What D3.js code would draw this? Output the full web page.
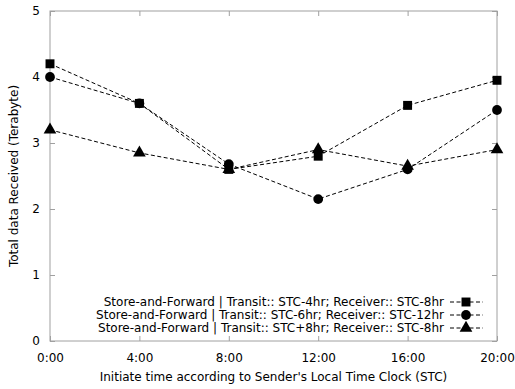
<!DOCTYPE html>
<html lang="en"><head>
<meta charset="utf-8">
<title>Total data received</title>
<script src="https://cdn.jsdelivr.net/npm/d3@7"></script>
<style>
body { margin: 0; background: #fff; }
text { font-family: "DejaVu Sans", sans-serif; fill: #000; }
</style>
</head>
<body>
<script type="text/javascript">

var width = 515;
var height = 389;

// data
var hours = [0, 4, 8, 12, 16, 20];
var tickLabels = ["0:00", "4:00", "8:00", "12:00", "16:00", "20:00"];
var seriesNames = [
    "Store-and-Forward | Transit:: STC-4hr; Receiver:: STC-8hr",
    "Store-and-Forward | Transit:: STC-6hr; Receiver:: STC-12hr",
    "Store-and-Forward | Transit:: STC+8hr; Receiver:: STC-8hr"
];
var squareValues = [4.2, 3.6, 2.6, 2.8, 3.57, 3.95];
var circleValues = [4.0, 3.6, 2.68, 2.15, 2.6, 3.5];
var triangleValues = [3.2, 2.85, 2.6, 2.9, 2.65, 2.9];
var symbols = [d3.symbolSquare, d3.symbolCircle, d3.symbolTriangle];
var symbolSizes = [80, 75, 70];

var margin = {top: 11, right: 18, bottom: 48, left: 50};

var svg = d3.select("body").append("svg")
            .attr("width", width)
            .attr("height", height);

var x = d3.scaleLinear().domain([0, 20]).range([margin.left, width - margin.right]);
var y = d3.scaleLinear().domain([0, 5]).range([height - margin.bottom, margin.top]);

var frameColor = "#a0a0a0";

// frame
svg.append("rect")
    .attr("x", x(0)).attr("y", y(5))
    .attr("width", x(20) - x(0)).attr("height", y(0) - y(5))
    .attr("fill", "none")
    .attr("stroke", frameColor)
    .attr("stroke-width", 1);

// inward ticks, mirrored
function styleAxis(g) {
    g.select(".domain").remove();
    g.selectAll(".tick line").attr("stroke", frameColor);
    g.selectAll(".tick text").style("font-size", "12px").attr("fill", "#000");
}

svg.append("g")
    .attr("transform", "translate(0," + y(0) + ")")
    .call(d3.axisBottom(x).tickValues(hours).tickFormat((d, i) => tickLabels[i]).tickSizeInner(-5).tickPadding(10))
    .call(styleAxis)
    .call(g => g.selectAll(".tick text").attr("dy", "0.9em"));

svg.append("g")
    .attr("transform", "translate(0," + y(5) + ")")
    .call(d3.axisTop(x).tickValues(hours).tickFormat("").tickSizeInner(-5))
    .call(styleAxis);

svg.append("g")
    .attr("transform", "translate(" + x(0) + ",0)")
    .call(d3.axisLeft(y).ticks(5).tickFormat(d3.format("d")).tickSizeInner(-5).tickPadding(10))
    .call(styleAxis);

svg.append("g")
    .attr("transform", "translate(" + x(20) + ",0)")
    .call(d3.axisRight(y).ticks(5).tickFormat("").tickSizeInner(-5))
    .call(styleAxis);

// axis titles
svg.append("text")
    .attr("x", (x(0) + x(20)) / 2)
    .attr("y", 381)
    .attr("text-anchor", "middle")
    .style("font-size", "12px")
    .text("Initiate time according to Sender's Local Time Clock (STC)");

svg.append("text")
    .attr("transform", "translate(18," + ((y(0) + y(5)) / 2) + ") rotate(-90)")
    .attr("text-anchor", "middle")
    .style("font-size", "12px")
    .text("Total data Received (Terabyte)");

var allSeries = [squareValues, circleValues, triangleValues];

var line = d3.line()
    .x((d, i) => x(hours[i]))
    .y(d => y(d));

allSeries.forEach((values, s) => {
    svg.append("path")
        .datum(values)
        .attr("d", line)
        .attr("fill", "none")
        .attr("stroke", "#000")
        .attr("stroke-width", 1)
        .attr("stroke-dasharray", "4,2.5");

    svg.selectAll(".pt" + s)
        .data(values)
        .enter()
        .append("path")
        .attr("class", "pt" + s)
        .attr("transform", (d, i) => "translate(" + x(hours[i]) + "," + y(d) + ")")
        .attr("d", d3.symbol().type(symbols[s]).size(symbolSizes[s]))
        .attr("fill", "#000");
});

// legend
var legend = svg.append("g");
seriesNames.forEach((name, s) => {
    var ly = 302 + s * 13;
    legend.append("text")
        .attr("x", 444)
        .attr("y", ly)
        .attr("dy", "0.35em")
        .attr("text-anchor", "end")
        .style("font-size", "12px")
        .text(name);
    legend.append("line")
        .attr("x1", 450).attr("x2", 483)
        .attr("y1", ly).attr("y2", ly)
        .attr("stroke", "#000")
        .attr("stroke-width", 1)
        .attr("stroke-dasharray", "4,2.5");
    legend.append("path")
        .attr("transform", "translate(466," + ly + ")")
        .attr("d", d3.symbol().type(symbols[s]).size(symbolSizes[s]))
        .attr("fill", "#000");
});

</script>
</body></html>
